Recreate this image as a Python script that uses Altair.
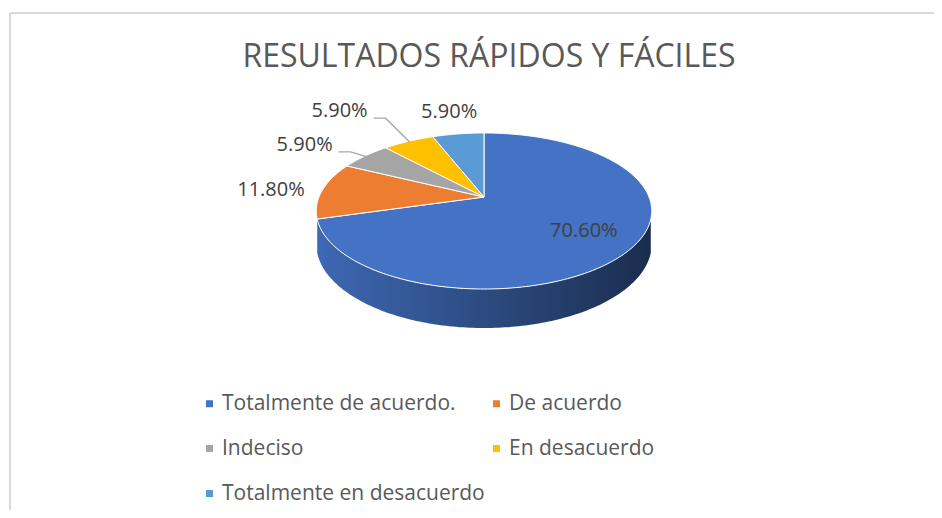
import math
import altair as alt
import pandas as pd

# ---------------- data ----------------
TITLE = "RESULTADOS RÁPIDOS Y FÁCILES"
categories = ["Totalmente de acuerdo.", "De acuerdo", "Indeciso",
              "En desacuerdo", "Totalmente en desacuerdo"]
values = [70.6, 11.8, 5.9, 5.9, 5.9]
value_labels = ["70.60%", "11.80%", "5.90%", "5.90%", "5.90%"]
colors = ["#4472c4", "#ed7d31", "#a5a5a5", "#ffc000", "#5b9bd5"]

# ---------------- layout ----------------
W, H = 926, 502          # drawing area (view)
ORIGIN = 8               # page margin: page coord = view coord + 8
CX, CY = 484, 197        # pie centre (page coords)
RX, RY = 165, 75.5       # pie radii on screen
K = 0.1795               # perspective strength
K_SIDE = 0.28            # where the side silhouette starts (depth coord)
DEPTH = 32               # pie thickness
label_radius = [0.70, 1.11, 1.31, 1.68, 1.44]
label_align = ["center", "right", "right", "right", "center"]
has_leader = [False, False, True, True, False]
FONT = "Open Sans"


def project(theta_deg, r=1.0, drop=0.0):
    t = math.radians(theta_deg)
    u = r * math.sin(t)
    v = -r * math.cos(t)
    s = 1.0 / (1.0 - K * v)
    return CX + RX * u * s, CY + RY * v * s + drop * s


def arc_angles(a0, a1, step=1.0):
    n = max(2, int(math.ceil((a1 - a0) / step)) + 1)
    return [a0 + (a1 - a0) * i / (n - 1) for i in range(n)]


def shade(hex_color, f):
    h = hex_color.lstrip("#")
    r, g, b = (int(h[i:i + 2], 16) for i in (0, 2, 4))
    return "#%02x%02x%02x" % (int(r * f), int(g * f), int(b * f))


total = sum(values)
starts, ends = [], []
acc = 0.0
for v in values:
    starts.append(acc / total * 360.0)
    acc += v
    ends.append(acc / total * 360.0)

# top faces
top_rows = []
for ci, cat in enumerate(categories):
    pts = [(CX, CY)]
    pts += [project(a) for a in arc_angles(starts[ci], ends[ci])]
    pts.append((CX, CY))
    for i, (px, py) in enumerate(pts):
        top_rows.append({"cat": cat, "i": i, "px": px, "py": py})
top_df = pd.DataFrame(top_rows)

# visible front side range
front_lo = math.degrees(math.acos(-K_SIDE))
front_hi = 360.0 - front_lo

xs = alt.Scale(domain=[ORIGIN, ORIGIN + W], range=[0, W], nice=False, zero=False)
ys = alt.Scale(domain=[ORIGIN, ORIGIN + H], range=[0, H], nice=False, zero=False)
X = alt.X("px:Q", scale=xs, axis=None)
Y = alt.Y("py:Q", scale=ys, axis=None)

layers = []

# border of the chart area
frame_df = pd.DataFrame({"k": [0]})
layers.append(alt.Chart(frame_df).mark_rule(color="#d9d9d9", strokeWidth=2).encode(
    x=alt.value(2), x2=alt.value(W), y=alt.value(5)))
layers.append(alt.Chart(frame_df).mark_rule(color="#d9d9d9", strokeWidth=2).encode(
    x=alt.value(2), y=alt.value(5), y2=alt.value(H)))

# side walls
for ci, cat in enumerate(categories):
    lo = max(starts[ci], front_lo)
    hi = min(ends[ci], front_hi)
    if hi <= lo:
        continue
    angs = arc_angles(lo, hi)
    pts = [project(a) for a in angs] + [project(a, 1.0, DEPTH) for a in reversed(angs)]
    side_df = pd.DataFrame({"i": list(range(len(pts))),
                            "px": [p[0] for p in pts],
                            "py": [p[1] for p in pts]})
    grad = alt.Gradient(gradient="linear", x1=0, x2=1, y1=0, y2=0, stops=[
        alt.GradientStop(color=shade(colors[ci], 0.92), offset=0),
        alt.GradientStop(color=shade(colors[ci], 0.66), offset=0.5),
        alt.GradientStop(color=shade(colors[ci], 0.40), offset=1),
    ])
    layers.append(alt.Chart(side_df).mark_line(fill=grad, strokeWidth=0, strokeOpacity=0).encode(
        x=X, y=Y, order="i:Q"))

# top faces + legend
layers.append(alt.Chart(top_df).mark_line(stroke="white", strokeWidth=1, strokeJoin="round").encode(
    x=X, y=Y, order="i:Q",
    fill=alt.Fill("cat:N", scale=alt.Scale(domain=categories, range=colors),
                  sort=categories,
                  legend=alt.Legend(title=None, orient="none", legendX=191, legendY=385,
                                    direction="horizontal",
                                    columns=2, symbolType="square", symbolSize=49,
                                    symbolStrokeWidth=0, labelFontSize=21, labelFont=FONT,
                                    labelColor="#595959", labelLimit=500, rowPadding=23,
                                    columnPadding=1, labelOffset=2, padding=0))))

# leader lines
lead_rows = []
for ci, cat in enumerate(categories):
    if not has_leader[ci]:
        continue
    mid = (starts[ci] + ends[ci]) / 2
    ax, ay = project(mid, label_radius[ci])
    ex, ey = project(mid, 0.98)
    for i, (px, py) in enumerate([(ax + 6, ay + 7), (ax + 18, ay + 7), (ex, ey)]):
        lead_rows.append({"cat": cat, "i": i, "px": px, "py": py})
if lead_rows:
    layers.append(alt.Chart(pd.DataFrame(lead_rows)).mark_line(
        color="#a6a6a6", strokeWidth=1.3).encode(x=X, y=Y, order="i:Q", detail="cat:N"))

# value labels
lab_rows = []
for ci, cat in enumerate(categories):
    mid = (starts[ci] + ends[ci]) / 2
    ax, ay = project(mid, label_radius[ci])
    lab_rows.append({"cat": cat, "label": value_labels[ci], "align": label_align[ci],
                     "px": ax, "py": ay})
lab_df = pd.DataFrame(lab_rows)
for al in ["center", "right"]:
    sub = lab_df[lab_df["align"] == al]
    if len(sub) == 0:
        continue
    layers.append(alt.Chart(sub).mark_text(align=al, baseline="middle", font=FONT,
                                           fontSize=20, color="#404040").encode(
        x=X, y=Y, text="label:N"))

# title
title_df = pd.DataFrame({"t": [TITLE]})
layers.append(alt.Chart(title_df).mark_text(align="center", baseline="alphabetic", font=FONT,
                                            fontSize=32, fontWeight=400, color="#595959").encode(
    x=alt.value(481), y=alt.value(59), text="t:N"))

chart = alt.layer(*layers).properties(
    width=W, height=H, padding=0,
    autosize=alt.AutoSizeParams(type="none")
).configure_view(stroke=None)

chart.save("out.html", embed_options={"renderer": "svg", "actions": False})
